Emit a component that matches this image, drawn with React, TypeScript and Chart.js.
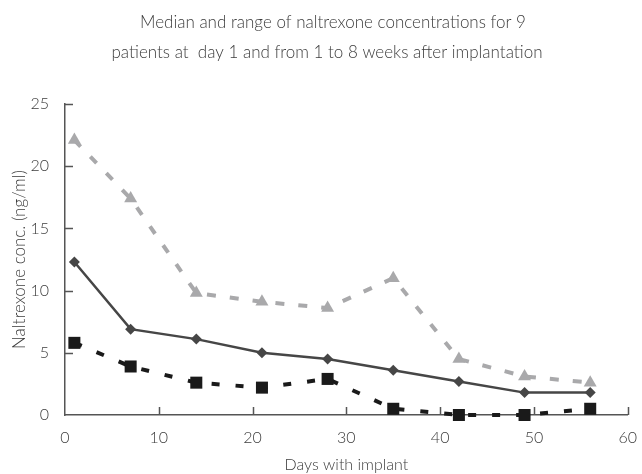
import React, { useEffect, useRef } from 'react';
import { Chart, registerables } from 'chart.js';

Chart.register(...registerables);

const days = [1, 7, 14, 21, 28, 35, 42, 49, 56];
const upperRange = [22.1, 17.4, 9.8, 9.1, 8.6, 11.0, 4.5, 3.1, 2.6];
const medianConc = [12.3, 6.9, 6.1, 5.0, 4.5, 3.6, 2.7, 1.8, 1.8];
const lowerRange = [5.8, 3.9, 2.6, 2.2, 2.9, 0.5, 0.0, 0.0, 0.5];
const xTickValues = [0, 10, 20, 30, 40, 50, 60];
const yTickValues = [0, 5, 10, 15, 20, 25];
const titleLines = [
  'Median and range of naltrexone concentrations for 9',
  'patients at  day 1 and from 1 to 8 weeks after implantation',
];
const xAxisTitle = 'Days with implant';
const yAxisTitle = 'Naltrexone conc. (ng/ml)';

const FONT = 'Lato';
const TEXT = '#3c3c3c';
const AXIS = '#555555';

const inwardTicks = {
  id: 'inwardTicks',
  beforeDatasetsDraw(chart: any) {
    const { ctx, chartArea, scales } = chart;
    ctx.save();
    ctx.strokeStyle = AXIS;
    ctx.lineWidth = 1.5;
    ctx.beginPath();
    xTickValues.forEach((v) => {
      if (v === xTickValues[0]) return;
      const px = Math.round(scales.x.getPixelForValue(v)) + 0.5;
      ctx.moveTo(px, chartArea.bottom);
      ctx.lineTo(px, chartArea.bottom - 8);
    });
    yTickValues.forEach((v) => {
      if (v === yTickValues[0]) return;
      const py = Math.round(scales.y.getPixelForValue(v)) + 0.5;
      ctx.moveTo(chartArea.left, py);
      ctx.lineTo(chartArea.left + 8, py);
    });
    ctx.stroke();
    ctx.restore();
  },
};

const titlePlugin = {
  id: 'twoLineTitle',
  afterDraw(chart: any) {
    const { ctx } = chart;
    ctx.save();
    ctx.font = `300 17px ${FONT}`;
    ctx.fillStyle = TEXT;
    ctx.textAlign = 'center';
    ctx.textBaseline = 'alphabetic';
    ctx.fillText(titleLines[0], 333, 28);
    ctx.fillText(titleLines[1], 327, 58);
    ctx.restore();
  },
};

export default function App() {
  const canvasRef = useRef<HTMLCanvasElement | null>(null);

  useEffect(() => {
    document.body.style.margin = '0';
    const canvas = canvasRef.current;
    if (!canvas) return;
    const chart = new Chart(canvas, {
      type: 'line',
      data: {
        datasets: [
          {
            label: 'Upper range',
            data: days.map((d, i) => ({ x: d, y: upperRange[i] })),
            borderColor: '#a9a9ab',
            backgroundColor: '#a9a9ab',
            borderWidth: 4,
            borderDash: [9, 14],
            borderCapStyle: 'butt',
            pointStyle: 'triangle',
            pointRadius: 7.5,
            pointBorderWidth: 0,
            tension: 0,
            clip: false,
          },
          {
            label: 'Median',
            data: days.map((d, i) => ({ x: d, y: medianConc[i] })),
            borderColor: '#464646',
            backgroundColor: '#464646',
            borderWidth: 2.5,
            pointStyle: 'rectRot',
            pointRadius: 5.5,
            pointBorderWidth: 0,
            tension: 0,
            clip: false,
          },
          {
            label: 'Lower range',
            data: days.map((d, i) => ({ x: d, y: lowerRange[i] })),
            borderColor: '#1a1a1a',
            backgroundColor: '#1a1a1a',
            borderWidth: 4,
            borderDash: [8, 16],
            borderCapStyle: 'butt',
            pointStyle: 'rect',
            pointRadius: 8.5,
            pointBorderWidth: 0,
            tension: 0,
            clip: false,
          },
        ],
      },
      options: {
        animation: false,
        responsive: true,
        maintainAspectRatio: false,
        layout: { padding: { top: 104, right: 12, bottom: 0, left: 9 } },
        plugins: {
          legend: { display: false },
          title: { display: false },
          tooltip: { enabled: false },
        },
        scales: {
          x: {
            type: 'linear',
            min: 0,
            max: 60,
            afterFit: (scale: any) => {
              scale.height = 59;
            },
            afterBuildTicks: (scale: any) => {
              scale.ticks = xTickValues.map((v) => ({ value: v }));
            },
            grid: { display: false },
            border: { display: true, color: AXIS, width: 1.5 },
            ticks: {
              padding: 5,
              color: TEXT,
              font: { family: FONT, size: 16, weight: '300' },
              maxRotation: 0,
            },
            title: {
              display: true,
              text: xAxisTitle,
              color: TEXT,
              font: { family: FONT, size: 16, weight: '300' },
              padding: { top: 0, bottom: 0 },
            },
          },
          y: {
            type: 'linear',
            min: 0,
            max: 25,
            afterFit: (scale: any) => {
              scale.width = 56;
            },
            afterBuildTicks: (scale: any) => {
              scale.ticks = yTickValues.map((v) => ({ value: v }));
            },
            grid: { display: false },
            border: { display: true, color: AXIS, width: 1.5 },
            ticks: {
              padding: 8,
              color: TEXT,
              font: { family: FONT, size: 16, weight: '300' },
            },
            title: {
              display: true,
              text: yAxisTitle,
              color: TEXT,
              font: { family: FONT, size: 17, weight: '300' },
              padding: { top: 0, bottom: 0 },
            },
          },
        },
      },
      plugins: [inwardTicks, titlePlugin],
    } as any);
    return () => chart.destroy();
  }, []);

  return (
    <div style={{ position: 'relative', width: 642, height: 474 }}>
      <canvas ref={canvasRef} />
    </div>
  );
}
